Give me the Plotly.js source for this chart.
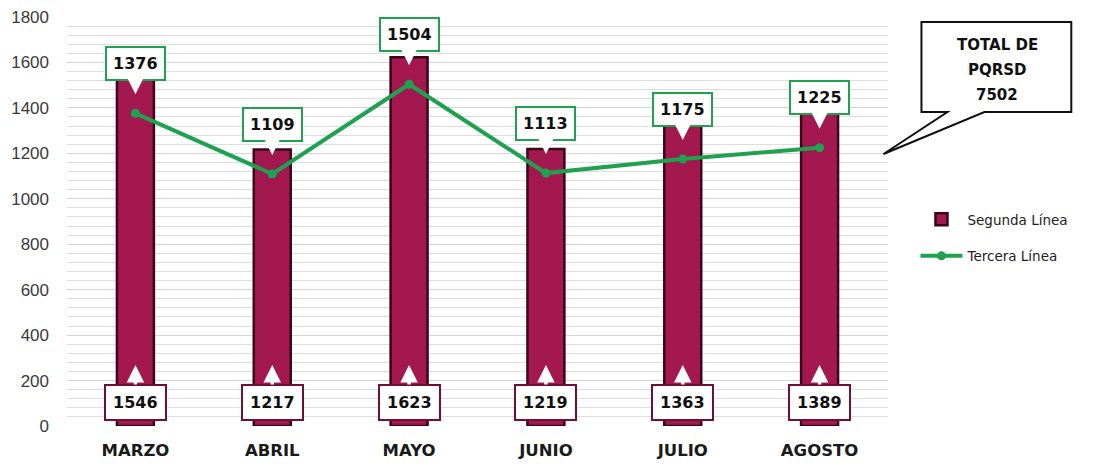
<!DOCTYPE html>
<html><head><meta charset="utf-8">
<script src="https://cdn.plot.ly/plotly-3.0.1.min.js"></script>
<style>html,body{margin:0;padding:0;background:#fff}#chart{width:1095px;height:464px}</style>
</head><body><div id="chart"></div>
<script>
const months = ["MARZO","ABRIL","MAYO","JUNIO","JULIO","AGOSTO"];
const segunda = [1546,1217,1623,1219,1363,1389];
const tercera = [1376,1109,1504,1113,1175,1225];
const totalLines = ["TOTAL DE","PQRSD","7502"];

const L = 66.5, R = 888.5, T = 17, B = 426;
const px = x => (x - L) / (R - L);
const py = y => (B - y) / (B - T);

const traces = [
  {type:'bar', name:'Segunda Línea', x:months, y:segunda, width:0.27,
   marker:{color:'#a3184f', line:{color:'#3a0618', width:2.5}},
   legendgroup:'a', cliponaxis:false, hoverinfo:'x+y'},
  {type:'scatter', mode:'lines+markers', name:'Tercera Línea', x:months, y:tercera,
   line:{color:'#20a152', width:4}, marker:{color:'#20a152', size:9},
   legendgroup:'b', cliponaxis:false}
];

const annotations = [];
months.forEach((m,i)=>{
  annotations.push({x:m, y:268, xref:'x', yref:'y', text:'<b>'+segunda[i]+'</b>',
    showarrow:true, ax:0, ay:37,
    arrowcolor:'#ffffff', arrowwidth:3.5, arrowhead:2, arrowsize:1,
    bgcolor:'#ffffff', bordercolor:'#6e0f33', borderwidth:2, borderpad:7,
    font:{family:'DejaVu Sans', size:16, color:'#111'}});
  annotations.push({x:m, y:tercera[i], xref:'x', yref:'y', text:'<b>'+tercera[i]+'</b>',
    showarrow:true, ax:0, ay:-50, arrowcolor:'#ffffff', arrowwidth:3.5, arrowhead:2,
    arrowsize:1, standoff:19,
    bgcolor:'#ffffff', bordercolor:'#20a152', borderwidth:2, borderpad:6,
    font:{family:'DejaVu Sans', size:16, color:'#111'}});
});
totalLines.forEach((t,i)=>{
  annotations.push({xref:'paper', yref:'paper', x:px(998), y:py(45 + 25*i), text:'<b>'+t+'</b>',
    showarrow:false, xanchor:'center', yanchor:'middle',
    font:{family:'DejaVu Sans', size:15, color:'#111'}});
});

const shapes = [{type:'path', xref:'paper', yref:'paper',
  path:`M ${px(922)},${py(22)} L ${px(1072)},${py(22)} L ${px(1072)},${py(112)} L ${px(985)},${py(112)} L ${px(884)},${py(154)} L ${px(948)},${py(112)} L ${px(922)},${py(112)} Z`,
  line:{color:'#111', width:2}, fillcolor:'#ffffff'}];

const layout = {
  width:1095, height:464,
  margin:{l:L, r:1095-R, t:T, b:464-B},
  paper_bgcolor:'#ffffff', plot_bgcolor:'#ffffff',
  xaxis:{type:'category', range:[-0.5,5.5], showgrid:false, zeroline:false, showline:false,
    ticks:'', ticklabelstandoff:12,
    tickfont:{family:'DejaVu Sans', size:16.5, color:'#1a1a1a', weight:'bold'}},
  yaxis:{range:[0,1800], dtick:200, tick0:0, showgrid:true, gridcolor:'#d4d4d4', gridwidth:1,
    minor:{dtick:40, showgrid:true, gridcolor:'#dedede', gridwidth:1},
    zeroline:false, showline:false, ticks:'', ticklabelstandoff:17,
    tickfont:{family:'Liberation Sans, Arial', size:17, color:'#3a3a3a'}},
  showlegend:true,
  legend:{x:px(916), y:py(204), xanchor:'left', yanchor:'top', traceorder:'grouped',
    tracegroupgap:16, itemwidth:42, bgcolor:'rgba(0,0,0,0)',
    font:{family:'DejaVu Sans', size:13.5, color:'#222'}},
  annotations, shapes
};
Plotly.newPlot('chart', traces, layout, {displayModeBar:false, staticPlot:true});
</script></body></html>
